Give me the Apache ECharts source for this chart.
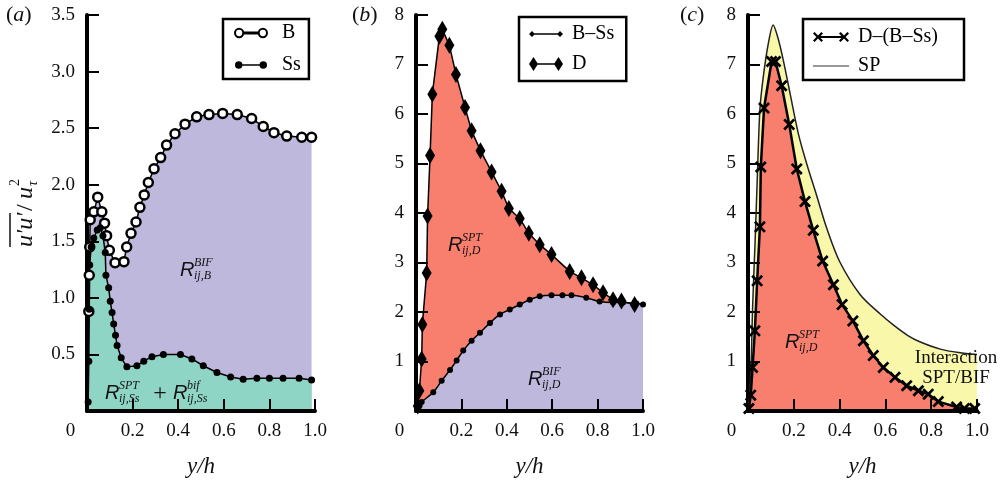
<!DOCTYPE html>
<html><head><meta charset="utf-8">
<script src="https://cdn.jsdelivr.net/npm/echarts@6/dist/echarts.min.js"></script>
<style>html,body{margin:0;padding:0;background:#fff}#c{width:1004px;height:483px}</style>
</head><body><div id="c"></div>
<script>
// ---- tick values ----
const xTicks = [0, 0.2, 0.4, 0.6, 0.8, 1.0];
const yTicksA = [0, 0.5, 1.0, 1.5, 2.0, 2.5, 3.0, 3.5];
const yTicksBC = [0, 1, 2, 3, 4, 5, 6, 7, 8];

// ---- panel (a) ----
const dataB = [[0.008,0.88],[0.01,1.2],[0.012,1.45],[0.014,1.69],[0.03,1.76],[0.047,1.89],[0.065,1.76],[0.077,1.66],[0.086,1.55],[0.098,1.42],[0.123,1.31],[0.162,1.32],[0.174,1.45],[0.193,1.57],[0.215,1.67],[0.232,1.80],[0.251,1.91],[0.269,2.02],[0.294,2.14],[0.323,2.24],[0.349,2.35],[0.386,2.45],[0.43,2.535],[0.481,2.60],[0.535,2.62],[0.595,2.63],[0.659,2.62],[0.722,2.585],[0.773,2.515],[0.82,2.46],[0.876,2.43],[0.942,2.42],[0.985,2.42]];
const dataSs = [[0.005,0.08],[0.008,0.44],[0.01,0.9],[0.012,1.29],[0.018,1.45],[0.03,1.53],[0.045,1.6],[0.058,1.62],[0.07,1.55],[0.08,1.4],[0.083,1.2],[0.095,1.09],[0.102,0.97],[0.11,0.87],[0.117,0.77],[0.125,0.67],[0.132,0.58],[0.15,0.47],[0.175,0.39],[0.219,0.40],[0.249,0.44],[0.285,0.48],[0.335,0.50],[0.41,0.50],[0.46,0.46],[0.51,0.40],[0.57,0.34],[0.63,0.30],[0.685,0.28],[0.745,0.29],[0.80,0.29],[0.86,0.29],[0.93,0.29],[0.985,0.275]];

// ---- panel (b) ----
const dataD = [[0.008,0.1],[0.015,0.41],[0.025,1.05],[0.028,1.75],[0.047,2.79],[0.051,3.94],[0.062,5.16],[0.072,6.40],[0.103,7.57],[0.116,7.71],[0.147,7.39],[0.176,6.80],[0.216,6.13],[0.245,5.66],[0.284,5.26],[0.333,4.83],[0.377,4.44],[0.409,4.09],[0.457,3.89],[0.497,3.59],[0.545,3.36],[0.597,3.16],[0.677,2.82],[0.729,2.69],[0.78,2.55],[0.824,2.39],[0.868,2.25],[0.905,2.22],[0.963,2.15]];
const dataBmSs = [[0.01,0.08],[0.025,0.18],[0.076,0.38],[0.113,0.61],[0.15,0.83],[0.179,1.02],[0.208,1.22],[0.245,1.42],[0.282,1.58],[0.326,1.78],[0.37,1.95],[0.413,2.05],[0.457,2.15],[0.501,2.25],[0.545,2.32],[0.597,2.34],[0.645,2.34],[0.685,2.34],[0.75,2.29],[0.809,2.21],[0.868,2.19],[0.912,2.19],[0.971,2.17],[1.0,2.15]];

// ---- panel (c) ----
const dataDiff = [[0.004,0.05],[0.012,0.32],[0.02,0.88],[0.03,1.62],[0.04,2.63],[0.052,3.72],[0.056,4.93],[0.07,6.12],[0.103,7.06],[0.12,7.06],[0.147,6.57],[0.18,5.79],[0.213,4.89],[0.249,4.23],[0.285,3.65],[0.326,3.03],[0.373,2.55],[0.411,2.15],[0.458,1.82],[0.504,1.42],[0.547,1.12],[0.591,0.88],[0.642,0.68],[0.693,0.51],[0.744,0.41],[0.787,0.34],[0.831,0.19],[0.911,0.08],[0.945,0.05],[0.99,0.05]];
const dataSP = [[0,0],[0.012,0.75],[0.02,2.08],[0.031,3.42],[0.041,4.76],[0.052,6.09],[0.067,6.76],[0.089,7.43],[0.11,7.80],[0.13,7.55],[0.154,7.09],[0.183,6.43],[0.22,5.6],[0.256,5.0],[0.30,4.35],[0.344,3.69],[0.40,3.02],[0.49,2.35],[0.58,1.95],[0.64,1.72],[0.70,1.52],[0.75,1.40],[0.84,1.25],[0.92,1.18],[1.0,1.14]];

const FONT = 'serif';
const SANS = 'sans-serif';
const LAV = '#bdb8dc', TEAL = '#8ed5c5', RED = '#f87e6e', YEL = '#f8f7aa';
const CROSS = 'path://M1.6,0 L5,3.4 L8.4,0 L10,1.6 L6.6,5 L10,8.4 L8.4,10 L5,6.6 L1.6,10 L0,8.4 L3.4,5 L0,1.6 Z';

function xAxisFor(i){
  return {type:'value', gridIndex:i, min:xTicks[0], max:xTicks[xTicks.length-1], interval:xTicks[1]-xTicks[0],
    name:'y/h', nameLocation:'middle', nameGap:44,
    nameTextStyle:{fontFamily:FONT, fontStyle:'italic', fontSize:23, color:'#111'},
    axisLine:{show:true, onZero:false, lineStyle:{color:'#000', width:4}},
    axisTick:{show:true, inside:true, length:12, lineStyle:{color:'#000', width:2}},
    splitLine:{show:false},
    axisLabel:{show:true, margin:11, fontFamily:FONT, fontSize:19, color:'#111', showMinLabel:true, showMaxLabel:true,
      formatter:v => Math.abs(v) < 1e-9 ? '{z|0}' : '{n|' + v.toFixed(1) + '}',
      rich:{z:{fontFamily:FONT, fontSize:19, color:'#111', padding:[0,33,0,0]},
            n:{fontFamily:FONT, fontSize:19, color:'#111'}}},
    z:10};
}
function yAxisFor(i, ticks){
  const dec = Number.isInteger(ticks[1]) ? 0 : 1;
  return {type:'value', gridIndex:i, min:ticks[0], max:ticks[ticks.length-1], interval:ticks[1]-ticks[0],
    axisLine:{show:true, onZero:false, lineStyle:{color:'#000', width:4}},
    axisTick:{show:true, inside:true, length:12, lineStyle:{color:'#000', width:2}},
    splitLine:{show:false},
    axisLabel:{show:true, margin:12, fontFamily:FONT, fontSize:19, color:'#111', showMaxLabel:true,
      formatter:v => Math.abs(v) < 1e-9 ? '' : v.toFixed(dec)},
    z:10};
}
function fill(i, data, color, smooth){
  return {type:'line', xAxisIndex:i, yAxisIndex:i, data:data, symbol:'none', smooth:smooth||false,
    lineStyle:{width:0}, areaStyle:{color:color, opacity:1}, silent:true, z:1};
}
function marks(i, name, data, symbol, size, itemStyle, lw, smooth){
  return {type:'line', name:name, xAxisIndex:i, yAxisIndex:i, data:data, symbol:symbol, symbolSize:size,
    showSymbol:symbol!=='none', itemStyle:itemStyle, lineStyle:{color:'#000', width:lw}, smooth:smooth||false,
    clip:false, z:11};
}
function rLab(x, yc, sup, sub){
  return [
    {type:'text', x:x, y:yc, z:30, style:{text:'R', fontFamily:SANS, fontStyle:'italic', fontSize:20, fill:'#111', align:'left', verticalAlign:'middle'}},
    {type:'text', x:x+14, y:yc-7, z:30, style:{text:sup, fontFamily:FONT, fontStyle:'italic', fontSize:12, fill:'#111', align:'left', verticalAlign:'middle'}},
    {type:'text', x:x+14, y:yc+6, z:30, style:{text:sub, fontFamily:FONT, fontStyle:'italic', fontSize:12, fill:'#111', align:'left', verticalAlign:'middle'}}
  ];
}
function panelLabel(x, letter){
  return {type:'text', x:x, y:4, z:30, style:{text:'(' + '{i|' + letter + '})', fontFamily:FONT, fontSize:22, fill:'#111',
    rich:{i:{fontFamily:FONT, fontStyle:'italic', fontSize:22, fill:'#111'}}}};
}

const ICON_B = 'path://M0.5,4.5A4,4 0 1,1 8.5,4.5A4,4 0 1,1 0.5,4.5Z M23.5,4.5A4,4 0 1,1 31.5,4.5A4,4 0 1,1 23.5,4.5Z M8.5,3.9L23.5,3.9L23.5,5.1L8.5,5.1Z';
const ICON_SS = 'path://M0.5,4.5A3.6,3.6 0 1,1 7.7,4.5A3.6,3.6 0 1,1 0.5,4.5Z M24.3,4.5A3.6,3.6 0 1,1 31.5,4.5A3.6,3.6 0 1,1 24.3,4.5Z M4,3.8L28,3.8L28,5.2L4,5.2Z';
const ICON_D = 'path://M4.5,0L9,7L4.5,14L0,7Z M29.5,0L34,7L29.5,14L25,7Z M8,6.2L26,6.2L26,7.8L8,7.8Z';
const ICON_BS = 'path://M3,4L6,7L3,10L0,7Z M31,4L34,7L31,10L28,7Z M3,6.3L31,6.3L31,7.7L3,7.7Z';
const ICON_X = 'path://M1.6,1 L5,4.4 L8.4,1 L10,2.6 L6.6,6 L10,9.4 L8.4,11 L5,7.6 L1.6,11 L0,9.4 L3.4,6 L0,2.6 Z M27.6,1 L31,4.4 L34.4,1 L36,2.6 L32.6,6 L36,9.4 L34.4,11 L31,7.6 L27.6,11 L26,9.4 L29.4,6 L26,2.6 Z M6,5.1L30,5.1L30,6.9L6,6.9Z';
const ICON_SP = 'path://M2,0L32,0L32,1.6L2,1.6Z';

const legendBase = {orient:'vertical', borderColor:'#000', borderWidth:2.5, selectedMode:false, symbolKeepAspect:true,
  textStyle:{fontFamily:FONT, fontSize:20, color:'#000'}};

const chart = echarts.init(document.getElementById('c'), null, {renderer:'canvas'});
chart.setOption({
  animation:false,
  backgroundColor:'#fff',
  textStyle:{fontFamily:FONT},
  grid:[
    {left:87, top:15, width:228, height:399},
    {left:416, top:15, width:227, height:399},
    {left:748, top:15, width:229, height:399}
  ],
  xAxis:[xAxisFor(0), xAxisFor(1), xAxisFor(2)],
  yAxis:[yAxisFor(0, yTicksA), yAxisFor(1, yTicksBC), yAxisFor(2, yTicksBC)],
  legend:[
    Object.assign({}, legendBase, {left:223, top:19, itemWidth:32, itemHeight:9, itemGap:12, padding:[4,8,4,11], formatter:'\u2002{name}',
      data:[{name:'B', icon:ICON_B, itemStyle:{color:'#fff', borderColor:'#000', borderWidth:2}},
            {name:'Ss', icon:ICON_SS, itemStyle:{color:'#000', borderWidth:0}}]}),
    Object.assign({}, legendBase, {left:519, top:17, itemWidth:34, itemHeight:14, itemGap:10, padding:[7,12,7,10], formatter:'\u2009{name}',
      data:[{name:'B–Ss', icon:ICON_BS, itemStyle:{color:'#000', borderWidth:0}},
            {name:'D', icon:ICON_D, itemStyle:{color:'#000', borderWidth:0}}]}),
    Object.assign({}, legendBase, {left:803, top:19, itemWidth:36, itemHeight:12, itemGap:9, padding:[8,26,4,10], formatter:'\u2009{name}',
      data:[{name:'D–(B–Ss)', icon:ICON_X, itemStyle:{color:'#000', borderWidth:0}},
            {name:'SP', icon:ICON_SP, itemStyle:{color:'#999', borderWidth:0}}]})
  ],
  series:[
    fill(0, dataB, LAV),
    fill(0, dataSs, TEAL),
    marks(0, 'B', dataB, 'circle', 9, {color:'#fff', borderColor:'#000', borderWidth:2.5}, 1.5),
    marks(0, 'Ss', dataSs, 'circle', 7, {color:'#000'}, 1.5),
    fill(1, dataD, RED),
    fill(1, dataBmSs, LAV, 0.3),
    marks(1, 'D', dataD, 'diamond', [10,17], {color:'#000'}, 1.5),
    marks(1, 'B–Ss', dataBmSs, 'circle', 6, {color:'#000'}, 1.5, 0.3),
    fill(2, dataSP, YEL, 0.3),
    fill(2, dataDiff, RED),
    {type:'line', name:'SP', xAxisIndex:2, yAxisIndex:2, data:dataSP, symbol:'none', showSymbol:false, smooth:0.3,
      lineStyle:{color:'#222', width:1.5}, itemStyle:{color:'#999'}, z:11},
    marks(2, 'D–(B–Ss)', dataDiff, CROSS, 12, {color:'#000'}, 2.5)
  ],
  graphic:[
    panelLabel(6, 'a'), panelLabel(352, 'b'), panelLabel(680, 'c'),
    {type:'group', x:26, y:247, rotation:Math.PI/2, z:30, children:[
      {type:'text', x:0, y:0, style:{text:'u′u′', fontFamily:FONT, fontStyle:'italic', fontSize:24, fill:'#111', align:'left', verticalAlign:'middle'}},
      {type:'line', shape:{x1:0, y1:-16, x2:34, y2:-16}, style:{stroke:'#111', lineWidth:1.5}},
      {type:'text', x:36, y:0, style:{text:'/', fontFamily:FONT, fontSize:24, fill:'#111', align:'left', verticalAlign:'middle'}},
      {type:'text', x:48, y:0, style:{text:'u', fontFamily:FONT, fontStyle:'italic', fontSize:24, fill:'#111', align:'left', verticalAlign:'middle'}},
      {type:'text', x:61, y:-11, style:{text:'2', fontFamily:FONT, fontSize:14, fill:'#111', align:'left', verticalAlign:'middle'}},
      {type:'text', x:61, y:7, style:{text:'τ', fontFamily:FONT, fontStyle:'italic', fontSize:14, fill:'#111', align:'left', verticalAlign:'middle'}}
    ]},
    ...rLab(180, 270, 'BIF', 'ij,B'),
    ...rLab(105, 393, 'SPT', 'ij,Ss'),
    {type:'text', x:160, y:394, z:30, style:{text:'+', fontFamily:FONT, fontSize:24, fill:'#111', align:'center', verticalAlign:'middle'}},
    ...rLab(173, 393, 'bif', 'ij,Ss'),
    ...rLab(448, 245, 'SPT', 'ij,D'),
    ...rLab(528, 379, 'BIF', 'ij,D'),
    ...rLab(785, 342, 'SPT', 'ij,D'),
    {type:'text', x:956, y:358, z:30, style:{text:'Interaction', fontFamily:FONT, fontSize:19, fill:'#111', align:'center', verticalAlign:'middle'}},
    {type:'text', x:956, y:378, z:30, style:{text:'SPT/BIF', fontFamily:FONT, fontSize:19, fill:'#111', align:'center', verticalAlign:'middle'}}
  ]
});
</script>
</body></html>
